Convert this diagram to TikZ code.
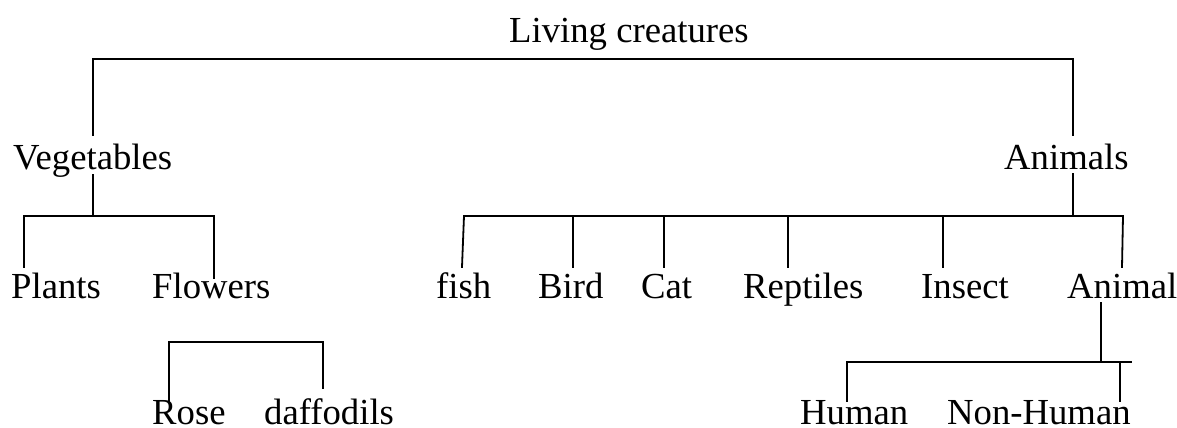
\documentclass[tikz,border=0pt]{standalone}
\usepackage{fontspec}
\setmainfont{Liberation Serif}
\begin{document}
\begin{tikzpicture}[x=1pt,y=-1pt,
  lbl/.style={anchor=base west,inner sep=0pt,font=\fontsize{36.7}{44}\selectfont},
  link/.style={line width=1.8pt,line cap=rect}]
\useasboundingbox (0,0) rectangle (1177,428);
% labels
\node[lbl] (living) at (509,42) {Living creatures};
\node[lbl] (veg) at (13,169) {Vegetables};
\node[lbl] (anim) at (1004,169) {Animals};
\node[lbl] (plants) at (11,298) {Plants};
\node[lbl] (flowers) at (152,298) {Flowers};
\node[lbl] (fish) at (436,298) {fish};
\node[lbl] (bird) at (538,298) {Bird};
\node[lbl] (cat) at (641,298) {Cat};
\node[lbl] (rept) at (743,298) {Reptiles};
\node[lbl] (insect) at (921,298) {Insect};
\node[lbl] (animal) at (1067,298) {Animal};
\node[lbl] (rose) at (152,424) {Rose};
\node[lbl] (daff) at (264,424) {daffodils};
\node[lbl] (human) at (800,424) {Human};
\node[lbl] (nonhuman) at (947,424) {Non-Human};
% junction coordinates
\coordinate (vegTop) at (93,135);
\coordinate (topL) at (93,59);
\coordinate (topR) at (1073,59);
\coordinate (animTop) at (1073,135);
\coordinate (vegBot) at (93,175);
\coordinate (vegBar) at (93,216);
\coordinate (plantsTop) at (24,267);
\coordinate (vbL) at (24,216);
\coordinate (vbR) at (214,216);
\coordinate (flowersTop) at (214,278);
\coordinate (animBot) at (1073,174);
\coordinate (animBar) at (1073,216);
\coordinate (abL) at (464,216);
\coordinate (abR) at (1123,216);
\coordinate (fishTop) at (462,267);
\coordinate (abBird) at (573,216);
\coordinate (birdTop) at (573,267);
\coordinate (abCat) at (664,216);
\coordinate (catTop) at (664,267);
\coordinate (abRept) at (788,216);
\coordinate (reptTop) at (788,267);
\coordinate (abIns) at (943,216);
\coordinate (insTop) at (943,267);
\coordinate (animalTop) at (1122,267);
\coordinate (roseTop) at (169,402);
\coordinate (rbL) at (169,342);
\coordinate (rbR) at (323,342);
\coordinate (daffTop) at (323,388);
\coordinate (animalBot) at (1101,303);
\coordinate (hbMid) at (1101,362);
\coordinate (hbL) at (847,362);
\coordinate (hbR) at (1131,362);
\coordinate (humanTop) at (847,401);
\coordinate (hbNon) at (1120,362);
\coordinate (nonTop) at (1120,401);
% connectors
\draw[link] (vegTop) -- (topL) -- (topR) -- (animTop);
\draw[link] (vegBot) -- (vegBar);
\draw[link] (plantsTop) -- (vbL) -- (vbR) -- (flowersTop);
\draw[link] (animBot) -- (animBar);
\draw[link] (abL) -- (abR);
\draw[link] (abL) -- (fishTop);
\draw[link] (abBird) -- (birdTop);
\draw[link] (abCat) -- (catTop);
\draw[link] (abRept) -- (reptTop);
\draw[link] (abIns) -- (insTop);
\draw[link] (abR) -- (animalTop);
\draw[link] (roseTop) -- (rbL) -- (rbR) -- (daffTop);
\draw[link] (animalBot) -- (hbMid);
\draw[link] (hbL) -- (hbR);
\draw[link] (humanTop) -- (hbL);
\draw[link] (hbNon) -- (nonTop);
\end{tikzpicture}
\end{document}
